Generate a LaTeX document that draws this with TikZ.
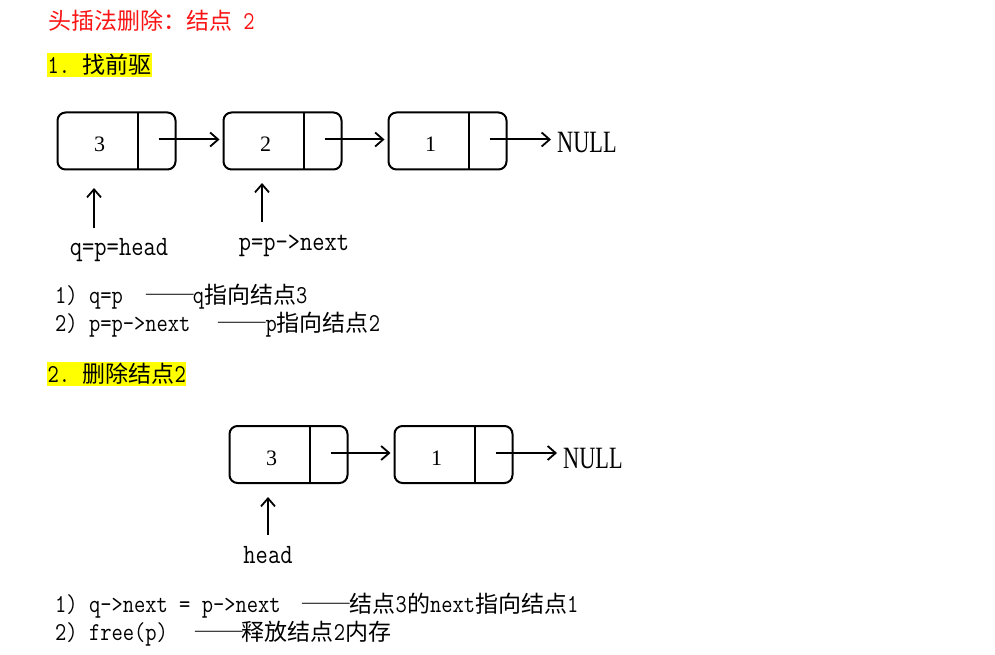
\documentclass[tikz,border=0pt]{standalone}
\usepackage{fontspec}
\usepackage{graphicx}
\usetikzlibrary{arrows.meta}
\newfontfamily\cjk{Noto Sans CJK SC}
\newfontfamily\cjkdash[RawFeature=+fwid]{Noto Sans CJK SC}
\newfontfamily\mono[Scale=1.12,FakeStretch=0.85]{Latin Modern Mono}
\newfontfamily\serif{Liberation Serif}
\newcommand\zh[1]{{\cjk #1}}
\newcommand\en[1]{{\mono #1}}
\newcommand\dashes{\makebox[2em][c]{\scalebox{1.12}[1]{\cjkdash ——}}}
\definecolor{titlered}{RGB}{250,20,20}
\definecolor{hlyellow}{RGB}{255,255,0}
\begin{document}
\begin{tikzpicture}[x=1pt,y=-1pt,
  box/.style={draw, line width=2pt, rounded corners=8pt, minimum width=118pt,
    minimum height=57pt, inner sep=0pt, outer sep=0pt},
  ptr/.style={-{Straight Barb[length=8pt,width=14pt,line width=1.8pt]}, line width=2pt},
  num/.style={inner sep=0pt, font=\serif\fontsize{22}{24}\selectfont},
  nullt/.style={anchor=base west, inner sep=0pt, font=\serif\fontsize{31}{34}\selectfont},
  lbl/.style={anchor=base, inner sep=0pt, font=\fontsize{25}{28}\selectfont},
  txt/.style={anchor=west, inner sep=0pt, font=\fontsize{23}{26}\selectfont},
  head/.style={anchor=west, inner xsep=0pt, inner ysep=1pt, font=\fontsize{23}{26}\selectfont},
  hl/.style={head, fill=hlyellow, inner xsep=0.5pt}
]
\useasboundingbox (0,0) rectangle (995,655);

% title
\node[head, text=titlered] (title) at (48,21) {\zh{头插法删除：结点}\en{\ 2}};

% section 1
\node[hl] (s1) at (47,65) {\en{1.\ }\hspace{1pt}\zh{找前驱}};

\node[box] (b3) at (116.5,141) {};
\node[box] (b2) at (282.5,141) {};
\node[box] (b1) at (447.5,141) {};
\foreach \n/\v in {b3/3,b2/2,b1/1}{
  \draw[line width=2pt] ([xshift=80.5pt]\n.north west) -- ([xshift=80.5pt]\n.south west);
  \node[num] (\n v) at ([xshift=42pt,yshift=-3.5pt]\n.west) {\v};
  \coordinate (\n p) at ([xshift=-17pt,yshift=1.5pt]\n.east);
}
\draw[ptr, shorten >=4pt] (b3p) -- (b3p -| b2.west);
\draw[ptr, shorten >=4pt] (b2p) -- (b2p -| b1.west);
\node[nullt] (null1) at (557,153) {\scalebox{0.72}[1]{NULL}};
\draw[ptr, shorten >=6pt] (b1p) -- (b1p -| null1.west);

\node[lbl] (q) at (119,255) {\en{q=p=head}};
\coordinate (qa) at (94,228);
\coordinate (qb) at (94,188);
\draw[ptr] (qa) -- (qb);
\node[lbl] (p) at (294,250) {\en{p=p->next}};
\coordinate (pa) at (262,222);
\coordinate (pb) at (262,183);
\draw[ptr] (pa) -- (pb);

\node[txt] (l1) at (55,297) {\en{1)\ q=p}\hspace{24pt}\dashes\en{q}\zh{指向结点}\en{3}};
\node[txt] (l2) at (55,325) {\en{2)\ p=p->next}\hspace{29pt}\dashes\en{p}\zh{指向结点}\en{2}};

% section 2
\node[hl] (s2) at (47,374) {\en{2.\ }\hspace{1pt}\zh{删除结点}\en{2}};

\node[box] (c3) at (288.5,454.5) {};
\node[box] (c1) at (453.5,454.5) {};
\foreach \n/\v in {c3/3,c1/1}{
  \draw[line width=2pt] ([xshift=80.5pt]\n.north west) -- ([xshift=80.5pt]\n.south west);
  \node[num] (\n v) at ([xshift=42pt,yshift=-3.5pt]\n.west) {\v};
  \coordinate (\n p) at ([xshift=-17pt,yshift=1.5pt]\n.east);
}
\draw[ptr, shorten >=4pt] (c3p) -- (c3p -| c1.west);
\node[nullt] (null2) at (563,468) {\scalebox{0.72}[1]{NULL}};
\draw[ptr, shorten >=6pt] (c1p) -- (c1p -| null2.west);

\node[lbl] (h) at (268,563) {\en{head}};
\coordinate (ha) at (268,535);
\coordinate (hb) at (268,497);
\draw[ptr] (ha) -- (hb);

\node[txt] (m1) at (55,606) {\en{1)\ q->next\ =\ p->next}\hspace{23pt}\dashes\zh{结点}\en{3}\zh{的}\en{next}\zh{指向结点}\en{1}};
\node[txt] (m2) at (55,634) {\en{2)\ free(p)}\hspace{28pt}\dashes\zh{释放结点}\en{2}\zh{内存}};
\end{tikzpicture}
\end{document}
